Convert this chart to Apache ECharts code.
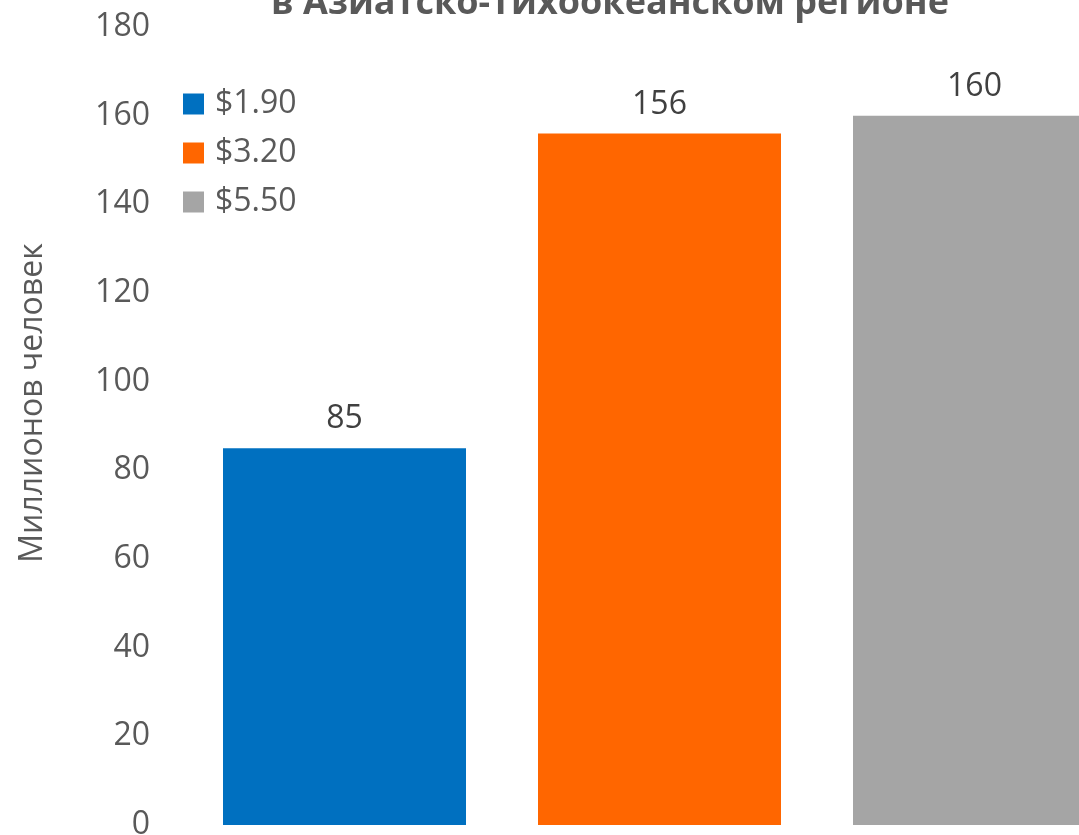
<!DOCTYPE html>
<html>
<head>
<meta charset="utf-8">
<script src="https://cdn.jsdelivr.net/npm/echarts@6/dist/echarts.min.js"></script>
<style>
  html, body { margin: 0; padding: 0; background: #fff; }
  #chart { width: 1079px; height: 835px; }
</style>
</head>
<body>
<div id="chart"></div>
<script>
const categories = ['', '', '']
const seriesNames = ['$1.90', '$3.20', '$5.50']
const values = [85, 156, 160]
const colors = ['#0070C0', '#FF6600', '#A5A5A5']
const yTicks = [0, 20, 40, 60, 80, 100, 120, 140, 160, 180]

const font = 'Open Sans, Noto Sans, sans-serif'

const chart = echarts.init(document.getElementById('chart'))

// каждая группа – отдельная серия, чтобы легенда показывала три пункта
const series = seriesNames.map((name, i) => ({
  name: name,
  type: 'bar',
  stack: 'all',
  barWidth: 243,
  data: values.map((v, j) => (j === i ? v : '-')),
  itemStyle: { color: colors[i] },
  label: {
    show: true,
    position: 'top',
    distance: 13,
    color: '#404040',
    fontSize: 32,
    fontFamily: font
  }
}))

chart.setOption({
  animation: false,
  title: {
    text: 'в Азиатско-Тихоокеанском регионе',
    left: 605,
    textAlign: 'center',
    top: -19,
    textStyle: {
      color: '#595959',
      fontSize: 36,
      fontWeight: 'bold',
      fontFamily: font
    }
  },
  legend: {
    orient: 'vertical',
    left: 178,
    top: 83,
    itemWidth: 21,
    itemHeight: 21,
    itemGap: 17,
    icon: 'rect',
    textStyle: { color: '#595959', fontSize: 32, fontFamily: font, padding: [0, 0, 0, 6] }
  },
  grid: {
    left: 187,
    top: 27,
    right: -53,
    bottom: 10,
    containLabel: false,
    outerBoundsMode: 'none'
  },
  xAxis: {
    type: 'category',
    data: categories,
    axisLine: { show: false },
    axisTick: { show: false },
    axisLabel: { show: false }
  },
  yAxis: {
    type: 'value',
    min: yTicks[0],
    max: yTicks[yTicks.length - 1],
    interval: 20,
    name: 'Миллионов человек',
    nameLocation: 'middle',
    nameGap: 138,
    nameRotate: 90,
    nameTextStyle: { color: '#595959', fontSize: 32, fontFamily: font, padding: [0, 0, 0, 46] },
    axisLine: { show: false },
    axisTick: { show: false },
    splitLine: { show: false },
    axisLabel: {
      margin: 37,
      color: '#595959',
      fontSize: 32,
      fontFamily: font
    }
  },
  series: series
})
</script>
</body>
</html>
